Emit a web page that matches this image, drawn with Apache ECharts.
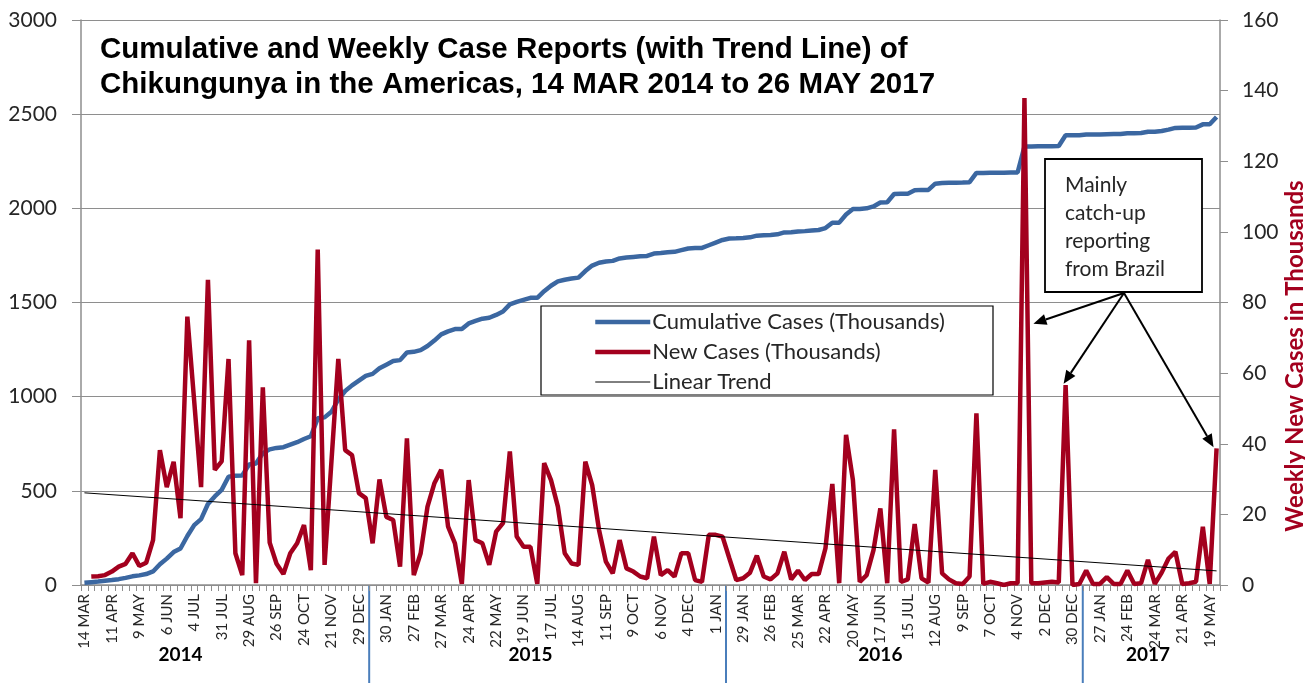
<!DOCTYPE html>
<html>
<head>
<meta charset="utf-8">
<script src="https://cdn.jsdelivr.net/npm/echarts@6/dist/echarts.min.js"></script>
<style>
  html, body { margin: 0; padding: 0; background: #fff; }
  #chart { width: 1305px; height: 691px; }
</style>
</head>
<body>
<div id="chart"></div>
<script>
// one label every 4 weeks
const tickLabels = ['14 MAR', '11 APR', '9 MAY', '6 JUN', '4 JUL', '31 JUL', '29 AUG', '26 SEP', '24 OCT', '21 NOV', '29 DEC',
    '30 JAN', '27 FEB', '27 MAR', '24 APR', '22 MAY', '19 JUN', '17 JUL', '14 AUG', '11 SEP', '9 OCT', '6 NOV', '4 DEC',
    '1 JAN', '29 JAN', '26 FEB', '25 MAR', '22 APR', '20 MAY', '17 JUN', '15 JUL', '12 AUG', '9 SEP', '7 OCT', '4 NOV', '2 DEC', '30 DEC',
    '27 JAN', '24 FEB', '24 MAR', '21 APR', '19 MAY'];
const weekCount = 166;
const years = ['2014', '2015', '2016', '2017'];
const yearLabelWeek = [14, 65, 116, 155];
const yearBreakWeek = [42, 94, 146];

// thousands, left axis
const cumulative = [
    12, 15, 18, 22, 26, 31, 38, 46, 51, 58,
    72, 110, 140, 175, 194, 260, 318, 350, 430, 470,
    505, 575, 580, 582, 640, 645, 700, 720, 728, 732,
    745, 758, 775, 790, 885, 890, 920, 985, 1030, 1060,
    1085, 1110, 1121, 1151, 1170, 1189, 1194, 1235, 1238, 1247,
    1269, 1298, 1331, 1347, 1359, 1359, 1389, 1402, 1414, 1419,
    1434, 1452, 1490, 1503, 1514, 1525, 1525, 1560, 1589, 1612,
    1621, 1627, 1632, 1667, 1696, 1711, 1718, 1721, 1734, 1739,
    1742, 1745, 1747, 1760, 1763, 1767, 1769, 1778, 1787, 1789,
    1790, 1804, 1818, 1832, 1840, 1841, 1843, 1846, 1855, 1857,
    1859, 1862, 1872, 1873, 1877, 1879, 1882, 1885, 1895, 1924,
    1924, 1967, 1996, 1997, 2000, 2010, 2031, 2032, 2076, 2077,
    2078, 2096, 2098, 2098, 2131, 2134, 2136, 2136, 2137, 2139,
    2188, 2188, 2189, 2189, 2189, 2190, 2190, 2328, 2328, 2329,
    2330, 2330, 2331, 2388, 2388, 2388, 2392, 2392, 2392, 2394,
    2395, 2395, 2399, 2399, 2400, 2407, 2407, 2411, 2418, 2427,
    2428, 2428, 2429, 2446, 2446, 2485
];

// thousands, right axis
const weekly = [
    null, 2.4, 2.5, 2.8, 3.8, 5.2, 6.0, 9.0, 5.4, 6.3,
    12.7, 38.2, 27.7, 34.9, 18.9, 76, 52, 27.7, 86.4, 32.6,
    35, 64, 9, 2.8, 69.3, 0.5, 56, 12, 6, 3.1,
    9, 11.8, 17, 4.2, 95, 5.7, 35, 64, 38.2, 36.8,
    26, 24.6, 11.8, 29.9, 19.3, 18.4, 5.2, 41.5, 2.8, 9.0,
    22.2, 28.8, 32.6, 16.5, 11.8, 0.3, 29.7, 12.7, 11.8, 5.7,
    15.1, 17.5, 37.8, 13.7, 10.8, 10.8, 0.3, 34.5, 29.7, 22.2,
    9.0, 6.1, 5.7, 34.9, 28.3, 15.6, 6.6, 3.3, 12.7, 4.7,
    3.8, 2.4, 1.9, 13.7, 2.8, 4.2, 2.4, 9.0, 9.0, 1.4,
    0.9, 14.2, 14.2, 13.7, 7.5, 1.4, 1.9, 3.5, 8.3, 2.4,
    1.6, 3.3, 9.4, 1.6, 4.1, 1.4, 3.1, 3.1, 10.4, 28.6,
    0.5, 42.5, 29.7, 0.9, 2.8, 9.9, 21.7, 0.5, 44.1, 0.9,
    1.6, 17.3, 1.9, 0.7, 32.6, 3.3, 1.6, 0.5, 0.3, 2.4,
    48.6, 0.3, 0.9, 0.5, 0, 0.5, 0.5, 137.9, 0.5, 0.5,
    0.7, 0.9, 0.7, 56.6, 0, 0.3, 4.1, 0.3, 0.3, 2.2,
    0.3, 0.3, 4.1, 0.3, 0.5, 7.1, 0.3, 3.5, 7.5, 9.4,
    0.3, 0.5, 0.9, 16.5, 0.3, 38.7
];

// linear fit of weekly cases, end points
const trend = [[0, 26.1], [165, 4.0]];

// weekly peaks the note points at: [week, value]
const notePoints = [[137, 74], [143, 57], [165, 39]];
const noteText = ['Mainly', 'catch-up', 'reporting', 'from Brazil'];

const BLUE = '#3B67A1';
const RED = '#A3001E';
const GRID = '#8e8e8e';
const TEXT = '#262626';

const categories = [];
for (let i = 0; i < weekCount; i++) {
    categories.push(i % 4 === 0 ? tickLabels[i / 4] : '');
}

const chart = echarts.init(document.getElementById('chart'));
chart.setOption({
    animation: false,
    backgroundColor: '#fff',
    title: {
        text: 'Cumulative and Weekly Case Reports (with Trend Line) of\nChikungunya in the Americas, 14 MAR 2014 to 26 MAY 2017',
        left: 100,
        top: 32,
        padding: 0,
        textStyle: {
            fontFamily: 'Liberation Sans',
            fontWeight: 'bold',
            fontSize: 29.5,
            lineHeight: 35,
            color: '#000'
        }
    },
    legend: {
        orient: 'vertical',
        left: 593,
        top: 311,
        itemWidth: 55,
        itemHeight: 14,
        itemGap: 8,
        padding: 0,
        itemStyle: { opacity: 0 },
        textStyle: { fontFamily: 'Lato', fontSize: 22, lineHeight: 21, color: TEXT, padding: [0, 0, 0, -3] },
        data: [
            { name: 'Cumulative Cases (Thousands)', lineStyle: { width: 4.5, color: BLUE } },
            { name: 'New Cases (Thousands)', lineStyle: { width: 4.5, color: RED } },
            { name: 'Linear Trend', lineStyle: { width: 1, color: '#000' } }
        ]
    },
    grid: { left: 81, right: 85, top: 20, bottom: 106 },
    xAxis: {
        type: 'category',
        data: categories,
        boundaryGap: true,
        axisLine: { lineStyle: { color: GRID, width: 1.5 } },
        axisTick: { show: true, interval: 0, length: 6, lineStyle: { color: GRID } },
        axisLabel: {
            interval: 3,
            rotate: 90,
            margin: 9,
            fontFamily: 'Lato',
            fontSize: 15,
            color: TEXT
        },
        splitLine: { show: false }
    },
    yAxis: [
        {
            type: 'value',
            min: 0,
            max: 3000,
            interval: 500,
            axisLine: { show: true, lineStyle: { color: GRID, width: 1.5 } },
            axisTick: { show: true, length: 9, lineStyle: { color: GRID } },
            axisLabel: { margin: 24, fontFamily: 'Lato', fontSize: 21, color: TEXT, formatter: v => String(v) },
            splitLine: { lineStyle: { color: GRID, width: 1.2 } }
        },
        {
            type: 'value',
            min: 0,
            max: 160,
            interval: 20,
            position: 'right',
            axisLine: { show: true, lineStyle: { color: GRID, width: 1.5 } },
            axisTick: { show: true, length: 8, lineStyle: { color: GRID } },
            axisLabel: { margin: 22, fontFamily: 'Lato', fontSize: 21, color: TEXT, formatter: v => String(v) },
            splitLine: { show: false }
        }
    ],
    series: [
        {
            name: 'Cumulative Cases (Thousands)',
            type: 'line',
            yAxisIndex: 0,
            data: cumulative,
            symbol: 'none',
            color: BLUE,
            lineStyle: { width: 4.5, color: BLUE },
            z: 2
        },
        {
            name: 'New Cases (Thousands)',
            type: 'line',
            yAxisIndex: 1,
            data: weekly,
            symbol: 'none',
            color: RED,
            lineStyle: { width: 4.5, color: RED },
            z: 3
        },
        {
            name: 'Linear Trend',
            type: 'line',
            yAxisIndex: 1,
            data: trend,
            symbol: 'none',
            color: '#000',
            lineStyle: { width: 1, color: '#000' },
            z: 4
        }
    ]
});

function px(week, value) {
    return chart.convertToPixel({ seriesIndex: 1 }, [week, value]);
}

function arrow(from, to) {
    const dx = to[0] - from[0], dy = to[1] - from[1];
    const len = Math.sqrt(dx * dx + dy * dy);
    const ux = dx / len, uy = dy / len;
    const head = 13, half = 5.5;
    const bx = to[0] - ux * head, by = to[1] - uy * head;
    return [
        { type: 'line', z: 20, shape: { x1: from[0], y1: from[1], x2: bx, y2: by }, style: { stroke: '#000', lineWidth: 2 } },
        { type: 'polygon', z: 20, shape: { points: [to, [bx - uy * half, by + ux * half], [bx + uy * half, by - ux * half]] }, style: { fill: '#000' } }
    ];
}

const bottomY = px(0, 0)[1];
const graphics = [];

// year separators below the axis
yearBreakWeek.forEach(w => {
    const x = (px(w - 1, 0)[0] + px(w, 0)[0]) / 2;
    graphics.push({ type: 'line', shape: { x1: x, y1: bottomY, x2: x, y2: bottomY + 98 }, style: { stroke: '#4A7EBB', lineWidth: 2 } });
});
years.forEach((y, i) => {
    graphics.push({
        type: 'text',
        x: px(yearLabelWeek[i], 0)[0],
        y: 655,
        style: { text: y, fontFamily: 'Lato', fontWeight: 'bold', fontSize: 19, fill: '#000', textAlign: 'center', textVerticalAlign: 'middle' }
    });
});

// right axis title
graphics.push({
    type: 'text',
    x: 1295,
    y: 356,
    rotation: Math.PI / 2,
    style: { text: 'Weekly New Cases in Thousands', fontFamily: 'Lato', fontWeight: 'bold', fontSize: 24, fill: RED, textAlign: 'center', textVerticalAlign: 'middle' }
});

// legend frame
graphics.push({ type: 'rect', z: 0, shape: { x: 541, y: 306, width: 452, height: 89 }, style: { fill: '#fff', stroke: '#000', lineWidth: 1.2 } });

// note box and arrows
graphics.push({ type: 'rect', z: 19, shape: { x: 1045, y: 159, width: 157, height: 133 }, style: { fill: '#fff', stroke: '#000', lineWidth: 1.8 } });
graphics.push({
    type: 'text',
    z: 20,
    x: 1065,
    y: 171,
    style: { text: noteText.join('\n'), fontFamily: 'Lato', fontSize: 21, lineHeight: 28, fill: TEXT }
});
const noteFrom = [1124, 293];
const tipShift = [[9, 0], [-2, 0], [-3, 0]];
notePoints.forEach((p, i) => {
    const t = px(p[0], p[1]);
    arrow(noteFrom, [t[0] + tipShift[i][0], t[1] + tipShift[i][1]]).forEach(g => graphics.push(g));
});

chart.setOption({ graphic: graphics });
</script>
</body>
</html>
